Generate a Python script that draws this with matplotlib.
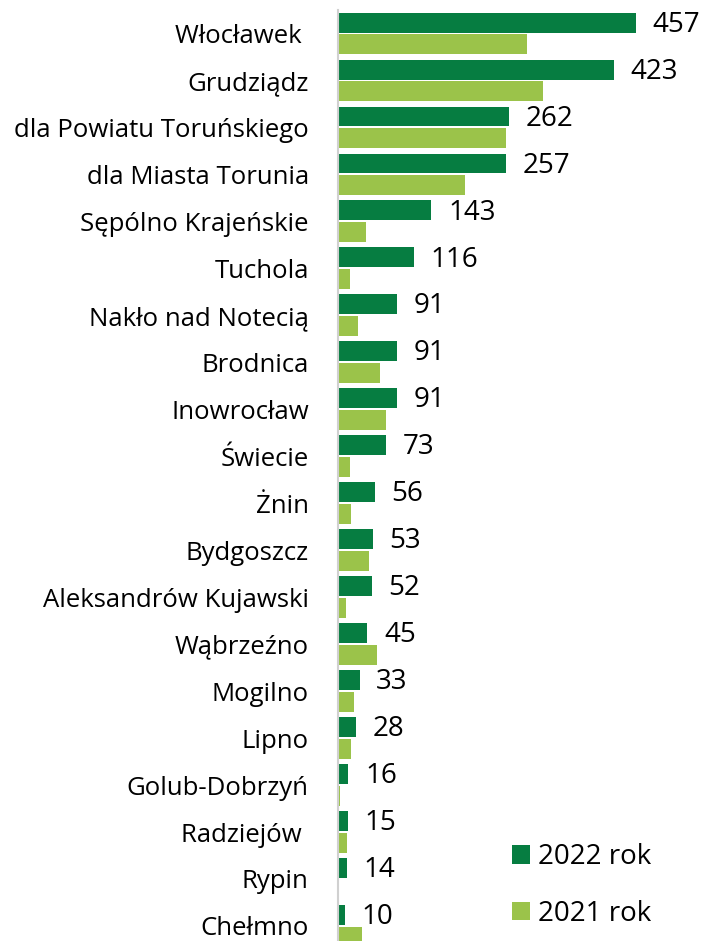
import matplotlib.pyplot as plt
import numpy as np

plt.rcParams['font.family'] = ['Open Sans', 'DejaVu Sans']

places = ['Włocławek ', 'Grudziądz', 'dla Powiatu Toruńskiego', 'dla Miasta Torunia',
          'Sępólno Krajeńskie', 'Tuchola', 'Nakło nad Notecią', 'Brodnica',
          'Inowrocław', 'Świecie', 'Żnin', 'Bydgoszcz', 'Aleksandrów Kujawski',
          'Wąbrzeźno', 'Mogilno', 'Lipno', 'Golub-Dobrzyń', 'Radziejów ',
          'Rypin', 'Chełmno']
y2022 = [457, 423, 262, 257, 143, 116, 91, 91, 91, 73, 56, 53, 52, 45, 33, 28, 16, 15, 14, 10]
y2021 = [289, 314, 258, 195, 43, 18, 30, 65, 74, 19, 20, 47, 12, 60, 25, 20, 3, 14, 1, 37]

dark = '#067D41'
light = '#9BC34A'

fig = plt.figure(figsize=(7.02, 9.41), dpi=100)
ax = fig.add_axes([338 / 702, 0, 364 / 702, 1 - 10 / 941])

pos = np.arange(len(places))
h = 0.425
ax.barh(pos - h / 2 - 0.02, y2022, height=h, color=dark, label='2022 rok')
ax.barh(pos + h / 2 + 0.02, y2021, height=h, color=light, label='2021 rok')

for p, v in zip(pos, y2022):
    ax.annotate(str(v), (v, p - h / 2 - 0.02), xytext=(12, -1.5), textcoords='offset points',
                va='center', ha='left', fontsize=20)

ax.set_xlim(0, 558)
ax.set_ylim(19.32, -0.5)
ax.set_yticks(pos)
ax.set_yticklabels(places, fontsize=18.5)
ax.tick_params(axis='y', length=0, pad=21)
ax.set_xticks([])
for s in ['top', 'right', 'bottom']:
    ax.spines[s].set_visible(False)
ax.spines['left'].set_color('#D0D0D0')
ax.spines['left'].set_linewidth(1.5)

ax.legend(loc='upper left', bbox_to_anchor=(512 / 702, 1 - 843 / 941),
          bbox_transform=fig.transFigure, frameon=False, fontsize=20,
          handlelength=0.65, handleheight=0.65, labelspacing=1.03,
          handletextpad=0.3, borderaxespad=0, borderpad=0)

fig.savefig('out.png', dpi=100)
